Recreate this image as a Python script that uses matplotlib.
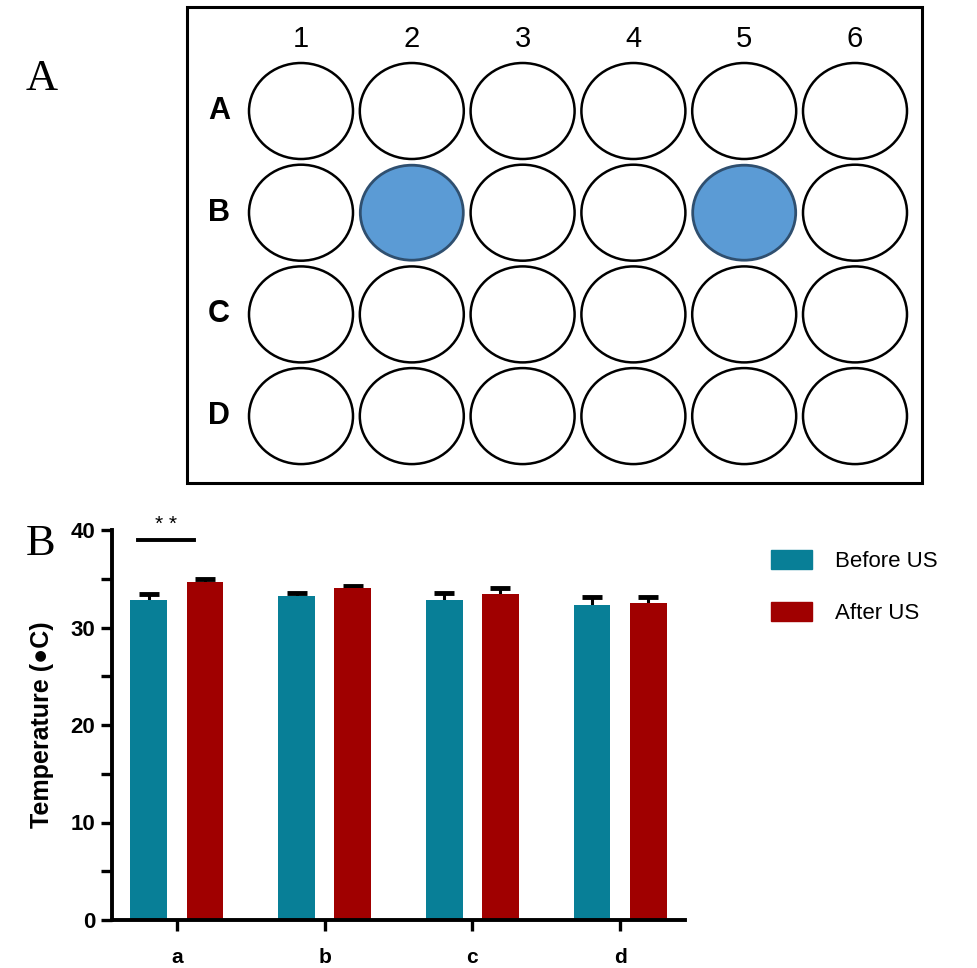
import numpy as np
import matplotlib.pyplot as plt
from matplotlib.patches import Ellipse, Rectangle, Patch

plt.rcParams['font.family'] = ['Liberation Sans', 'DejaVu Sans']

# --- data ---
plate_cols = ['1', '2', '3', '4', '5', '6']
plate_rows = ['A', 'B', 'C', 'D']
filled_wells = [('B', '2'), ('B', '5')]

groups = ['a', 'b', 'c', 'd']
before_us = [32.8, 33.2, 32.8, 32.3]
before_err = [0.6, 0.3, 0.7, 0.8]
after_us = [34.7, 34.05, 33.4, 32.5]
after_err = [0.3, 0.25, 0.7, 0.6]

teal = '#087f97'
red = '#a00000'
well_blue = '#5b9bd5'

fig = plt.figure(figsize=(9.78, 9.68), dpi=100)

# --- panel A: 24-well plate, drawn in pixel coordinates ---
axp = fig.add_axes([0, 0, 1, 1])
axp.set_xlim(0, 978)
axp.set_ylim(968, 0)
axp.axis('off')

axp.add_patch(Rectangle((187, 7), 735, 476, fill=False, lw=2.2, ec='black'))
x0, dx = 301, 110.8
y0, dy = 111, 101.7
for j, c in enumerate(plate_cols):
    axp.text(x0 + j * dx, 39, c, fontsize=21, ha='center', va='center')
for i, r in enumerate(plate_rows):
    axp.text(219, y0 + i * dy, r, fontsize=22, fontweight='bold', ha='center', va='center')
    for j, c in enumerate(plate_cols):
        if (r, c) in filled_wells:
            axp.add_patch(Ellipse((x0 + j * dx, y0 + i * dy), 103, 95, fc=well_blue,
                                  ec='#2f4f6f', lw=2))
        else:
            axp.add_patch(Ellipse((x0 + j * dx, y0 + i * dy), 104, 96, fc='white',
                                  ec='black', lw=1.8))

axp.text(26, 79, 'A', fontsize=32, family='Liberation Serif', va='center', ha='left')
axp.text(26, 544, 'B', fontsize=32, family='Liberation Serif', va='center', ha='left')

# --- panel B: bar chart ---
ax = fig.add_axes([112 / 978, 48 / 968, 573 / 978, 390 / 968])
x = np.arange(len(groups))
w = 0.25
off = 0.19
ax.bar(x - off, before_us, w, color=teal, label='Before US', zorder=2)
ax.bar(x + off, after_us, w, color=red, label='After US', zorder=2)
# error bars sit behind the bars so only the upper half shows
ax.errorbar(x - off, before_us, yerr=before_err, fmt='none',
            ecolor='black', elinewidth=2.2, capsize=7, capthick=3.5, zorder=1)
ax.errorbar(x + off, after_us, yerr=after_err, fmt='none',
            ecolor='black', elinewidth=2.2, capsize=7, capthick=3.5, zorder=1)

ax.set_xlim(-0.44, 3.44)
ax.set_ylim(0, 40)
ax.set_yticks([0, 10, 20, 30, 40])
ax.set_yticks([5, 15, 25, 35], minor=True)
ax.set_xticks(x)
ax.set_xticklabels(groups, fontsize=15, fontweight='bold')
for lab in ax.get_yticklabels():
    lab.set_fontweight('bold')
    lab.set_fontsize(16)
ax.tick_params(axis='both', which='major', length=8, width=2.4, pad=4)
ax.tick_params(axis='y', which='minor', length=8, width=2.4)
ax.tick_params(axis='x', pad=12)
for s in ['top', 'right']:
    ax.spines[s].set_visible(False)
for s in ['left', 'bottom']:
    ax.spines[s].set_linewidth(2.8)
    ax.spines[s].set_zorder(3)

ax.set_ylabel('Temperature (●C)', fontsize=18, fontweight='bold', labelpad=12)

# significance marker
ax.plot([-0.264, 0.115], [39.0, 39.0], color='black', lw=2.8, clip_on=False)
ax.text(-0.075, 39.6, '* *', ha='center', va='bottom', fontsize=15, clip_on=False)

handles = [Patch(color=teal), Patch(color=red)]
fig.legend(handles, ['Before US', 'After US'], loc='upper left',
           bbox_to_anchor=(751 / 978, 1 - 530 / 968), frameon=False, fontsize=16,
           handlelength=1.85, handleheight=0.95, labelspacing=1.35, handletextpad=1.05)

fig.savefig('out.png', dpi=100)
